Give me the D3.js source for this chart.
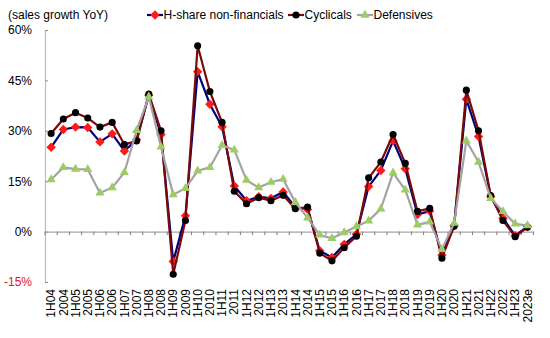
<!DOCTYPE html>
<html><head><meta charset="utf-8">
<script src="https://cdn.jsdelivr.net/npm/d3@7"></script>
<style>body{margin:0;background:#fff}text{font-family:"Liberation Sans",Arial,sans-serif}</style>
</head><body><svg id="c" width="550" height="338"></svg>
<script>
const categories=["1H04","2004","1H05","2005","1H06","2006","1H07","2007","1H08","2008","1H09","2009","1H10","2010","1H11","2011","1H12","2012","1H13","2013","1H14","2014","1H15","2015","1H16","2016","1H17","2017","1H18","2018","1H19","2019","1H20","2020","1H21","2021","1H22","2022","1H23","2023e"];
const hshare=[25.1,30.4,31.1,31.0,26.7,29.1,24.0,27.3,40.6,28.9,-8.9,4.7,47.6,37.9,31.2,13.6,9.2,10.4,9.9,11.8,7.3,6.6,-5.7,-7.7,-3.8,-0.8,13.4,18.2,27.0,18.7,5.1,6.1,-7.0,1.8,39.4,28.3,10.4,4.0,-1.2,1.5];
const cyclicals=[29.2,33.5,35.4,33.8,31.1,32.5,25.9,27.0,40.9,30.0,-12.7,3.3,55.3,41.7,32.5,12.0,8.3,10.1,9.2,10.8,6.8,7.3,-6.4,-8.7,-4.8,-1.4,16.0,20.7,28.9,20.3,6.0,6.9,-7.9,1.6,42.1,30.0,10.7,3.3,-1.5,1.3];
const defensives=[15.5,19.1,18.6,18.5,11.5,13.1,17.6,30.1,40.1,25.2,11.0,12.9,18.1,19.1,25.7,24.3,15.3,13.1,14.7,15.6,8.7,4.1,-1.0,-2.0,-0.3,1.5,3.2,6.8,17.5,12.4,2.0,2.9,-5.3,2.5,27.0,20.7,9.9,6.0,2.3,1.8];
const yTicks=[-15,0,15,30,45,60];
const seriesNames=["H-share non-financials","Cyclicals","Defensives"];

const svg=d3.select("#c");
const x=d3.scaleBand().domain(categories).range([45,533.5]);
const y=d3.scaleLinear().domain([-15,60]).range([282,30]);
const cx=d=>x(d)+x.bandwidth()/2;

// y axis
const ya=svg.append("g").attr("transform","translate(45,0)")
 .call(d3.axisLeft(y).tickValues(yTicks).tickSize(-3).tickFormat(d=>d+"%"));
ya.select(".domain").attr("stroke","#bdbdbd").attr("stroke-width",1.2);
ya.selectAll(".tick line").attr("stroke","#8c8c8c");
ya.selectAll(".tick text").attr("x",-13).attr("font-size",12).attr("fill",d=>d<0?"#e8131b":"#000")
 .attr("font-family","Liberation Sans, Arial, sans-serif");

// x axis at 0
const xa=svg.append("g").attr("transform",`translate(0,${y(0)})`)
 .call(d3.axisBottom(x).tickSize(0).tickFormat(""));
xa.select(".domain").attr("stroke","#a6a6a6").attr("stroke-width",1.2);
const bounds=categories.map(c=>x(c)).concat([x.range()[1]]);
svg.append("g").selectAll("line").data(bounds).join("line")
 .attr("x1",d=>d).attr("x2",d=>d).attr("y1",y(0)).attr("y2",y(0)+3.5)
 .attr("stroke","#7f7f7f");
// x labels
svg.append("g").selectAll("text").data(categories).join("text")
 .attr("transform",d=>`translate(${cx(d)},289) rotate(-90)`)
 .attr("dy","0.35em").attr("text-anchor","end").attr("font-size",12).text(d=>d);

const defs=[
 {v:hshare,line:"#00007e",fill:"#ff1a1a",shape:d3.symbolSquare,size:44,rot:45},
 {v:cyclicals,line:"#7a0a0a",fill:"#000",shape:d3.symbolCircle,size:40,rot:0},
 {v:defensives,line:"#a3a3a3",fill:"#9ccc65",shape:d3.symbolTriangle,size:36,rot:0}
];
const line=d3.line().x(d=>cx(d.c)).y(d=>y(d.v));
defs.forEach(s=>{
 const pts=categories.map((c,i)=>({c,v:s.v[i]}));
 svg.append("path").attr("d",line(pts)).attr("fill","none").attr("stroke",s.line).attr("stroke-width",2.2).attr("stroke-linejoin","round");
 svg.append("g").selectAll("path").data(pts).join("path")
  .attr("transform",d=>`translate(${cx(d.c)},${y(d.v)}) rotate(${s.rot})`)
  .attr("d",d3.symbol(s.shape,s.size)).attr("fill",s.fill);
});

// title
svg.append("text").attr("x",8).attr("y",19).attr("font-size",12).text("(sales growth YoY)");
// legend
const lx=[147,288,357];
defs.forEach((s,i)=>{
 const g=svg.append("g").attr("transform",`translate(${lx[i]},15)`);
 g.append("line").attr("x1",0).attr("x2",16).attr("stroke",s.line).attr("stroke-width",2.2);
 g.append("path").attr("transform",`translate(8,0) rotate(${s.rot})`).attr("d",d3.symbol(s.shape,s.size)).attr("fill",s.fill);
 g.append("text").attr("x",16.5).attr("dy","0.35em").attr("font-size",12).text(seriesNames[i]);
});
</script></body></html>
